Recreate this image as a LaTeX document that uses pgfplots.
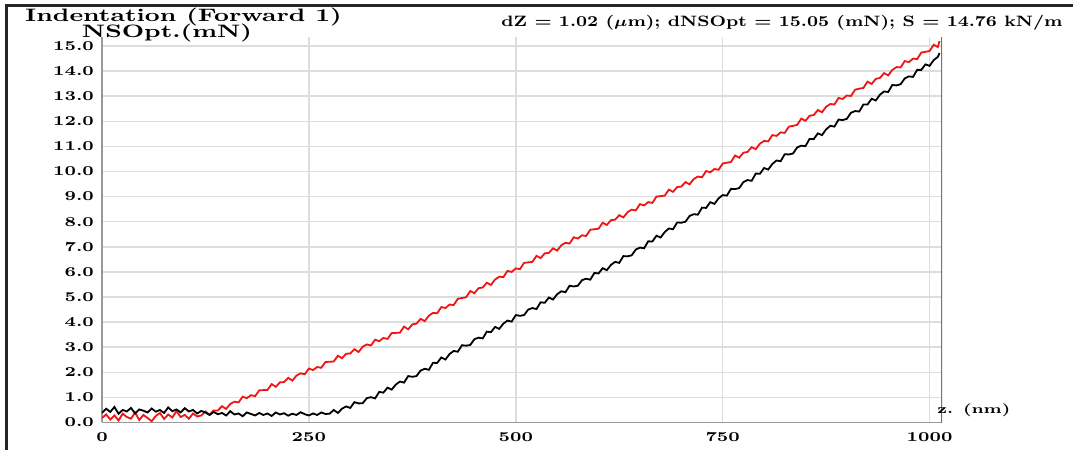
\documentclass[border=0pt]{standalone}
\usepackage{graphicx}
\usepackage{pgfplots}
\pgfplotsset{compat=1.18}
\definecolor{gridgray}{HTML}{DDDDDD}
\definecolor{axisgray}{HTML}{9A9A9A}
\definecolor{curvered}{HTML}{F01414}
% wide bold serif, like the instrument software's font
\newcommand\wide[3]{\scalebox{#1}[1]{\fontsize{#2}{#2}\selectfont\bfseries #3}}
\newcommand\tl[1]{\scalebox{1.3}[1]{\fontsize{6.8}{7}\selectfont\bfseries #1}}

\begin{document}
\begin{tikzpicture}
\useasboundingbox (-51pt,-13.75pt) rectangle (488pt,211.25pt);
% outer frame (top and left only)
\draw[line width=1.5pt, black!85] (-47.75pt,-13.75pt) -- (-47.75pt,208.5pt) -- (485.5pt,208.5pt);

\begin{axis}[
  at={(0,0)}, anchor=south west,
  scale only axis, width=420pt, height=192.75pt,
  xmin=0, xmax=1015, ymin=0, ymax=15.36,
  axis x line*=bottom, axis y line*=left,
  axis line style={axisgray, line width=0.8pt, -},
  xtick={0,250,500,750,1000},
  ytick={0,1,...,15},
  major tick length=0pt,
  grid=major,
  major grid style={gridgray, line width=0.75pt},
  /pgf/number format/assume math mode=true,
  xticklabel={\tl{\pgfmathprintnumber[1000 sep={}]{\tick}}},
  yticklabel={\tl{\pgfmathprintnumber[fixed,fixed zerofill,precision=1]{\tick}}},
  xticklabel style={yshift=-1.5pt},
  yticklabel style={xshift=-0.5pt},
]
\draw[black!55, line width=1pt] (rel axis cs:1,0) ++(0,-3pt) -- (rel axis cs:1,1);

% loading branch
\addplot[curvered, line width=0.9pt] coordinates {
(0,0.18)(5,0.32)(10,0.12)(15,0.28)(20,0.08)(25,0.35)(30,0.22)(35,0.15)(40,0.40)(45,0.10)
(50,0.30)(55,0.18)(60,0.05)(65,0.26)(70,0.38)(75,0.14)(80,0.32)(85,0.20)(90,0.45)(95,0.22)
(100,0.30)(105,0.15)(110,0.36)(115,0.24)(120,0.28)(125,0.44)(130,0.31)(135,0.48)(140,0.48)(145,0.65)
(150,0.54)(155,0.74)(160,0.83)(165,0.80)(170,1.03)(175,0.97)(180,1.09)(185,1.05)(190,1.28)(195,1.29)
(200,1.30)(205,1.53)(210,1.42)(215,1.60)(220,1.61)(225,1.78)(230,1.67)(235,1.87)(240,1.96)(245,1.92)
(250,2.15)(255,2.09)(260,2.21)(265,2.18)(270,2.41)(275,2.42)(280,2.43)(285,2.66)(290,2.56)(295,2.74)
(300,2.75)(305,2.92)(310,2.81)(315,3.02)(320,3.11)(325,3.07)(330,3.30)(335,3.24)(340,3.37)(345,3.33)
(350,3.56)(355,3.57)(360,3.58)(365,3.82)(370,3.71)(375,3.91)(380,3.94)(385,4.13)(390,4.04)(395,4.26)
(400,4.37)(405,4.35)(410,4.60)(415,4.56)(420,4.70)(425,4.68)(430,4.93)(435,4.96)(440,4.99)(445,5.24)
(450,5.15)(455,5.35)(460,5.38)(465,5.57)(470,5.48)(475,5.70)(480,5.81)(485,5.79)(490,6.04)(495,6.00)
(500,6.14)(505,6.11)(510,6.36)(515,6.38)(520,6.40)(525,6.64)(530,6.55)(535,6.74)(540,6.76)(545,6.94)
(550,6.85)(555,7.06)(560,7.16)(565,7.13)(570,7.38)(575,7.33)(580,7.46)(585,7.43)(590,7.68)(595,7.70)
(600,7.72)(605,7.96)(610,7.87)(615,8.06)(620,8.08)(625,8.26)(630,8.17)(635,8.38)(640,8.48)(645,8.45)
(650,8.70)(655,8.65)(660,8.78)(665,8.75)(670,9.00)(675,9.02)(680,9.04)(685,9.28)(690,9.19)(695,9.38)
(700,9.40)(705,9.58)(710,9.49)(715,9.70)(720,9.80)(725,9.77)(730,10.02)(735,9.97)(740,10.10)(745,10.07)
(750,10.32)(755,10.35)(760,10.38)(765,10.64)(770,10.55)(775,10.75)(780,10.78)(785,10.97)(790,10.89)(795,11.11)
(800,11.22)(805,11.20)(810,11.45)(815,11.42)(820,11.56)(825,11.54)(830,11.79)(835,11.82)(840,11.86)(845,12.11)
(850,12.02)(855,12.22)(860,12.25)(865,12.45)(870,12.36)(875,12.58)(880,12.69)(885,12.67)(890,12.93)(895,12.89)
(900,13.03)(905,13.01)(910,13.26)(915,13.30)(920,13.33)(925,13.58)(930,13.49)(935,13.69)(940,13.73)(945,13.92)
(950,13.83)(955,14.05)(960,14.16)(965,14.15)(970,14.40)(975,14.36)(980,14.50)(985,14.48)(990,14.74)(995,14.77)
(1000,14.80)(1005,15.05)(1010,14.96)(1012,15.20)
};

% second branch
\addplot[black, line width=0.9pt] coordinates {
(0,0.38)(5,0.55)(10,0.42)(15,0.62)(20,0.35)(25,0.50)(30,0.44)(35,0.58)(40,0.36)(45,0.52)
(50,0.47)(55,0.40)(60,0.56)(65,0.43)(70,0.50)(75,0.38)(80,0.60)(85,0.45)(90,0.52)(95,0.40)
(100,0.57)(105,0.44)(110,0.50)(115,0.36)(120,0.46)(125,0.40)(130,0.30)(135,0.42)(140,0.33)(145,0.38)
(150,0.28)(155,0.45)(160,0.32)(165,0.36)(170,0.25)(175,0.40)(180,0.34)(185,0.28)(190,0.38)(195,0.30)
(200,0.36)(205,0.26)(210,0.40)(215,0.32)(220,0.37)(225,0.27)(230,0.35)(235,0.30)(240,0.41)(245,0.33)
(250,0.28)(255,0.36)(260,0.30)(265,0.40)(270,0.34)(275,0.35)(280,0.50)(285,0.38)(290,0.55)(295,0.64)
(300,0.58)(305,0.81)(310,0.76)(315,0.77)(320,0.97)(325,1.01)(330,0.96)(335,1.22)(340,1.19)(345,1.39)
(350,1.31)(355,1.51)(360,1.63)(365,1.59)(370,1.85)(375,1.82)(380,1.85)(385,2.07)(390,2.14)(395,2.10)
(400,2.38)(405,2.37)(410,2.59)(415,2.51)(420,2.73)(425,2.85)(430,2.82)(435,3.08)(440,3.06)(445,3.09)
(450,3.32)(455,3.38)(460,3.35)(465,3.62)(470,3.60)(475,3.81)(480,3.73)(485,3.94)(490,4.06)(495,4.02)
(500,4.28)(505,4.25)(510,4.28)(515,4.50)(520,4.56)(525,4.52)(530,4.79)(535,4.77)(540,4.98)(545,4.90)
(550,5.11)(555,5.23)(560,5.19)(565,5.45)(570,5.42)(575,5.45)(580,5.67)(585,5.73)(590,5.69)(595,5.96)
(600,5.94)(605,6.15)(610,6.07)(615,6.28)(620,6.40)(625,6.36)(630,6.63)(635,6.62)(640,6.66)(645,6.89)
(650,6.97)(655,6.94)(660,7.22)(665,7.21)(670,7.44)(675,7.37)(680,7.59)(685,7.73)(690,7.70)(695,7.97)
(700,7.96)(705,8.00)(710,8.23)(715,8.30)(720,8.28)(725,8.56)(730,8.55)(735,8.78)(740,8.71)(745,8.93)
(750,9.06)(755,9.04)(760,9.31)(765,9.30)(770,9.34)(775,9.58)(780,9.66)(785,9.63)(790,9.92)(795,9.91)
(800,10.14)(805,10.08)(810,10.30)(815,10.44)(820,10.41)(825,10.69)(830,10.68)(835,10.72)(840,10.96)(845,11.03)
(850,11.01)(855,11.30)(860,11.29)(865,11.52)(870,11.45)(875,11.68)(880,11.82)(885,11.79)(890,12.07)(895,12.05)
(900,12.10)(905,12.34)(910,12.41)(915,12.39)(920,12.67)(925,12.67)(930,12.90)(935,12.83)(940,13.06)(945,13.19)
(950,13.17)(955,13.45)(960,13.43)(965,13.48)(970,13.71)(975,13.79)(980,13.77)(985,14.05)(990,14.05)(995,14.27)
(1000,14.21)(1005,14.44)(1010,14.57)(1012,14.72)
};
\end{axis}

\node[anchor=base] at (40.75pt,200.25pt) {\wide{1.4}{9}{Indentation (Forward 1)}};
\node[anchor=base] at (32.5pt,192.25pt) {\wide{1.4}{9}{NSOpt.(mN)}};
\node[anchor=base east, inner sep=0pt] at (480.5pt,198pt)
  {\wide{1.2}{7.5}{dZ = 1.02 ({\boldmath$\mu$}m); dNSOpt = 15.05 (mN); S = 14.76 kN/m}};
\node[anchor=base west, inner sep=0pt] at (417.5pt,4.25pt) {\wide{1.3}{6.5}{z. (nm)}};
\end{tikzpicture}
\end{document}
